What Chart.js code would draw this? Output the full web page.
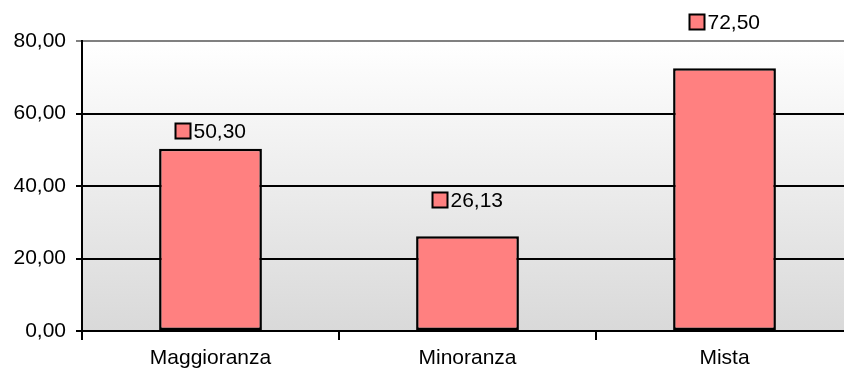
<!DOCTYPE html>
<html>
<head>
<meta charset="utf-8">
<script src="https://cdn.jsdelivr.net/npm/chart.js@4/dist/chart.umd.min.js"></script>
<style>
  html, body { margin: 0; padding: 0; background: #ffffff; width: 844px; height: 376px; overflow: hidden; }
  #chart { display: block; }
</style>
</head>
<body>
<!-- plot runs a little past the right edge of the page -->
<canvas id="chart" width="853" height="376"></canvas>
<script>
// Data
const categories = ['Maggioranza', 'Minoranza', 'Mista'];
const values = [50.30, 26.13, 72.50];
const yTicks = [0, 20, 40, 60, 80];

// Label lift above each bar (px)
const labelLift = [18, 36, 46];

const BAR_COLOR = '#FF8080';
const FONT = '"Liberation Sans", Arial, sans-serif';
const FONT_SIZE = 21;

const fmt = v => v.toFixed(2).replace('.', ',');

// Grey gradient behind the plot area
const plotBackground = {
    id: 'plotBackground',
    beforeDraw(chart) {
        const { ctx, chartArea: a } = chart;
        const g = ctx.createLinearGradient(0, a.top, 0, a.bottom);
        g.addColorStop(0, '#ffffff');
        g.addColorStop(1, '#d9d9d9');
        ctx.save();
        ctx.fillStyle = g;
        ctx.fillRect(a.left, a.top, a.right - a.left, a.bottom - a.top);
        ctx.restore();
    }
};

// Value labels with a small legend key in front
const valueLabels = {
    id: 'valueLabels',
    afterDatasetsDraw(chart) {
        const { ctx } = chart;
        const meta = chart.getDatasetMeta(0);
        ctx.save();
        ctx.font = FONT_SIZE + 'px ' + FONT;
        ctx.textBaseline = 'middle';
        ctx.textAlign = 'left';
        meta.data.forEach((bar, i) => {
            const text = fmt(values[i]);
            const tw = ctx.measureText(text).width;
            const box = 15, gap = 3;
            const total = box + gap + tw;
            const x0 = Math.round(bar.x - total / 2) + 0.5;
            const cy = Math.round(bar.y - labelLift[i]);
            ctx.fillStyle = BAR_COLOR;
            ctx.fillRect(x0, cy - box / 2, box, box);
            ctx.lineWidth = 2;
            ctx.strokeStyle = '#000000';
            ctx.strokeRect(x0, cy - box / 2, box, box);
            ctx.fillStyle = '#000000';
            ctx.fillText(text, x0 + box + gap, cy + 1);
        });
        ctx.restore();
    }
};

const chart = new Chart(document.getElementById('chart'), {
    type: 'bar',
    data: {
        labels: categories,
        datasets: [{
            data: values,
            backgroundColor: BAR_COLOR,
            borderColor: '#000000',
            borderWidth: 2.5,
            borderSkipped: false,
            categoryPercentage: 0.4,
            barPercentage: 1.0
        }]
    },
    options: {
        responsive: false,
        devicePixelRatio: 1,
        animation: false,
        layout: { padding: { top: 41, right: 0, left: 0, bottom: 0 } },
        plugins: {
            legend: { display: false },
            tooltip: { enabled: false }
        },
        scales: {
            x: {
                afterFit: s => { s.height = 45; },
                border: { color: '#000000', width: 2 },
                grid: {
                    offset: true,
                    drawOnChartArea: false,
                    color: '#000000',
                    lineWidth: 2,
                    tickLength: 9
                },
                ticks: {
                    color: '#000000',
                    padding: 6,
                    font: { family: FONT, size: FONT_SIZE }
                }
            },
            y: {
                min: 0,
                max: 80,
                afterFit: s => { s.width = 82; },
                afterBuildTicks: s => { s.ticks = yTicks.map(v => ({ value: v })); },
                border: { color: '#000000', width: 2 },
                grid: {
                    color: ctx => ctx.tick && ctx.tick.value === 80 ? '#808080' : '#000000',
                    lineWidth: 2,
                    tickLength: 6
                },
                ticks: {
                    color: '#000000',
                    padding: 10,
                    font: { family: FONT, size: FONT_SIZE },
                    callback: v => fmt(v)
                }
            }
        }
    },
    plugins: [plotBackground, valueLabels]
});
</script>
</body>
</html>
